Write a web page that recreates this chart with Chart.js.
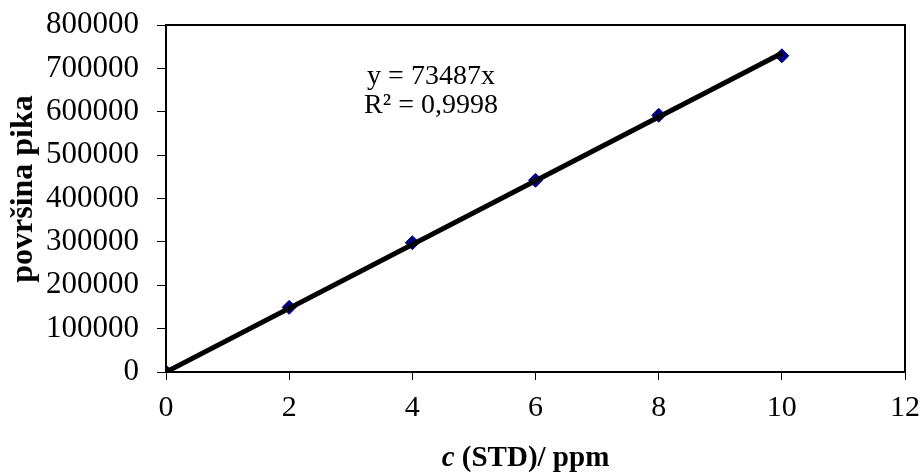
<!DOCTYPE html>
<html>
<head>
<meta charset="utf-8">
<script src="https://cdn.jsdelivr.net/npm/chart.js@4/dist/chart.umd.min.js"></script>
<style>
  html, body { margin: 0; padding: 0; background: #fff; }
  #wrap { width: 923px; height: 474px; }
</style>
</head>
<body>
<div id="wrap"><canvas id="calChart" width="923" height="474"></canvas></div>
<script>
// Kalibracijska krivulja - koncentracija standarda i površina pika
const conc = [0, 2, 4, 6, 8, 10];
const area = [0, 149000, 298000, 442000, 592000, 729000];
const slope = 73487;
const rSquared = "0,9998";
const xTicks = [0, 2, 4, 6, 8, 10, 12];
const yTicks = [0, 100000, 200000, 300000, 400000, 500000, 600000, 700000, 800000];

const serif = "'Liberation Serif', 'Times New Roman', serif";

const points = conc.map((c, i) => ({ x: c, y: area[i] }));
const trend = [
  { x: conc[0], y: slope * conc[0] },
  { x: conc[conc.length - 1], y: slope * conc[conc.length - 1] },
];

// okvir oko područja grafa, jednadžba pravca i naslovi osi
const framePlugin = {
  id: "frame",
  afterDatasetsDraw(chart) {
    const { ctx, chartArea: a } = chart;
    ctx.save();
    ctx.strokeStyle = "#000";
    ctx.lineWidth = 2;
    ctx.strokeRect(a.left, a.top, a.right - a.left, a.bottom - a.top);

    ctx.fillStyle = "#000";
    ctx.font = "28px " + serif;
    ctx.textAlign = "center";
    ctx.textBaseline = "alphabetic";
    ctx.fillText("y = " + slope + "x", 431, 84);
    ctx.fillText("R² = " + rSquared, 431, 113);

    // naslov x osi (c u kurzivu)
    const part1 = "c";
    const part2 = " (STD)/ ppm";
    ctx.font = "italic bold 29px " + serif;
    const w1 = ctx.measureText(part1).width;
    ctx.font = "bold 29px " + serif;
    const w2 = ctx.measureText(part2).width;
    const x0 = (a.left + a.right) / 2 - 10 - (w1 + w2) / 2;
    ctx.textAlign = "left";
    ctx.font = "italic bold 29px " + serif;
    ctx.fillText(part1, x0, 466);
    ctx.font = "bold 29px " + serif;
    ctx.fillText(part2, x0 + w1, 466);

    // naslov y osi
    ctx.translate(24, 189);
    ctx.rotate(-Math.PI / 2);
    ctx.textAlign = "center";
    ctx.textBaseline = "middle";
    ctx.font = "bold 32px " + serif;
    ctx.fillText("površina pika", 0, 0);
    ctx.restore();
  },
};

const ctx = document.getElementById("calChart").getContext("2d");
new Chart(ctx, {
  type: "scatter",
  data: {
    datasets: [
      {
        type: "line",
        label: "trend",
        data: trend,
        borderColor: "#000",
        borderWidth: 5,
        pointRadius: 0,
        fill: false,
        order: 0,
      },
      {
        label: "STD",
        data: points,
        backgroundColor: "#000080",
        borderColor: "#000080",
        pointStyle: "rectRot",
        pointRadius: 7,
        order: 1,
      },
    ],
  },
  options: {
    responsive: false,
    animation: false,
    layout: { padding: { top: 25, right: 18, left: 0, bottom: 0 } },
    plugins: {
      legend: { display: false },
      tooltip: { enabled: false },
    },
    scales: {
      x: {
        type: "linear",
        min: 0,
        max: 12,
        afterBuildTicks: (s) => { s.ticks = xTicks.map((v) => ({ value: v })); },
        afterFit: (s) => {
          s.height = 102;
          s.paddingLeft = 0;
          s.paddingRight = 0;
        },
        border: { display: true, color: "#000", width: 2 },
        grid: { drawOnChartArea: false, drawTicks: true, tickLength: 8, color: "#000", tickWidth: 1 },
        ticks: { color: "#000", font: { family: serif, size: 30 }, padding: 10, maxRotation: 0 },
      },
      y: {
        type: "linear",
        min: 0,
        max: 800000,
        afterBuildTicks: (s) => { s.ticks = yTicks.map((v) => ({ value: v })); },
        afterFit: (s) => {
          s.width = 166;
          s.paddingTop = 0;
          s.paddingBottom = 0;
        },
        border: { display: true, color: "#000", width: 2 },
        grid: { drawOnChartArea: false, drawTicks: true, tickLength: 9, color: "#000", tickWidth: 1 },
        ticks: {
          color: "#000",
          font: { family: serif, size: 31 },
          padding: 18,
          callback: (v) => String(v),
        },
      },
    },
  },
  plugins: [framePlugin],
});
</script>
</body>
</html>
